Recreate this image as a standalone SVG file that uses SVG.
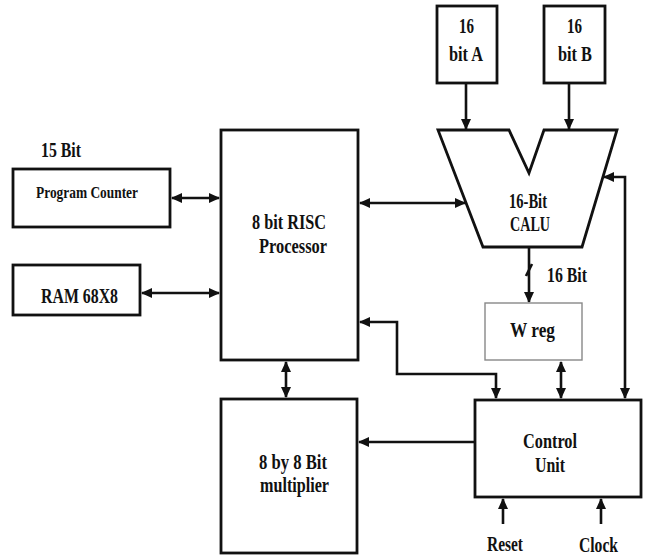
<svg xmlns="http://www.w3.org/2000/svg" width="645" height="558" viewBox="0 0 645 558">
<style>
.box{fill:#fff;stroke:#111;stroke-width:2.8}
.wbox{fill:#fff;stroke:#888;stroke-width:1.4}
.t{font-family:"Liberation Serif","Times New Roman",serif;font-weight:700;fill:#111;font-size:21px}
.s{font-size:16px}
.c{fill:none;stroke:#111;stroke-width:2.6}
</style>
<defs>
<marker id="ah" markerUnits="userSpaceOnUse" markerWidth="11" markerHeight="10" refX="10" refY="5" orient="auto-start-reverse">
<path d="M0,0 L11,5 L0,10 z" fill="#111"/>
</marker>
</defs>
<rect width="645" height="558" fill="#fff"/>

<g id="connectors">
<line class="c" x1="172" y1="198" x2="219" y2="198" marker-start="url(#ah)" marker-end="url(#ah)"/>
<line class="c" x1="142" y1="293" x2="219" y2="293" marker-start="url(#ah)" marker-end="url(#ah)"/>
<line class="c" x1="360" y1="203" x2="465" y2="203" marker-start="url(#ah)" marker-end="url(#ah)"/>
<line class="c" x1="466" y1="84" x2="466" y2="129" marker-end="url(#ah)"/>
<line class="c" x1="569" y1="84" x2="569" y2="129" marker-end="url(#ah)"/>
<line class="c" x1="529" y1="248" x2="529" y2="302" marker-end="url(#ah)"/>
<line class="c" x1="526" y1="276" x2="532" y2="264" stroke-width="1.8"/>
<line class="c" x1="561" y1="362" x2="561" y2="398" marker-start="url(#ah)" marker-end="url(#ah)"/>
<path class="c" d="M496,398 V374 H397 V322 H360" marker-start="url(#ah)" marker-end="url(#ah)"/>
<path class="c" d="M604,177 H625 V398" marker-start="url(#ah)" marker-end="url(#ah)"/>
<line class="c" x1="286" y1="362" x2="286" y2="397" marker-start="url(#ah)" marker-end="url(#ah)"/>
<line class="c" x1="474" y1="442" x2="359" y2="442" marker-end="url(#ah)"/>
<line class="c" x1="503" y1="524" x2="503" y2="499" marker-end="url(#ah)"/>
<line class="c" x1="601" y1="524" x2="601" y2="499" marker-end="url(#ah)"/>
</g>

<g id="label-15bit">
<text class="t" x="41" y="157" textLength="40" lengthAdjust="spacingAndGlyphs">15 Bit</text>
</g>

<g id="program-counter">
<rect class="box" x="13" y="169" width="157" height="58"/>
<text class="t s" x="36" y="198" textLength="102" lengthAdjust="spacingAndGlyphs">Program Counter</text>
</g>

<g id="ram">
<rect class="box" x="13" y="265" width="127" height="50"/>
<text class="t" x="41" y="303" textLength="77" lengthAdjust="spacingAndGlyphs">RAM 68X8</text>
</g>

<g id="processor">
<rect class="box" x="221" y="130" width="137" height="230"/>
<text class="t" x="252" y="229" textLength="74" lengthAdjust="spacingAndGlyphs">8 bit RISC</text>
<text class="t" x="259" y="253" textLength="68" lengthAdjust="spacingAndGlyphs">Processor</text>
</g>

<g id="multiplier">
<rect class="box" x="221" y="399" width="136" height="154"/>
<text class="t" x="259" y="469" textLength="68" lengthAdjust="spacingAndGlyphs">8 by 8 Bit</text>
<text class="t" x="260" y="492" textLength="69" lengthAdjust="spacingAndGlyphs">multiplier</text>
</g>

<g id="bit-a">
<rect class="box" x="437" y="6" width="60" height="77"/>
<text class="t" x="459" y="33" textLength="15" lengthAdjust="spacingAndGlyphs">16</text>
<text class="t" x="449" y="61" textLength="34" lengthAdjust="spacingAndGlyphs">bit A</text>
</g>

<g id="bit-b">
<rect class="box" x="544" y="6" width="61" height="77"/>
<text class="t" x="567" y="33" textLength="15" lengthAdjust="spacingAndGlyphs">16</text>
<text class="t" x="558" y="61" textLength="34" lengthAdjust="spacingAndGlyphs">bit B</text>
</g>

<g id="calu">
<path class="box" d="M438,130 H509 L529,173 L544,130 H617 L582,247 H483 Z"/>
<text class="t" x="509" y="208" textLength="38" lengthAdjust="spacingAndGlyphs">16-Bit</text>
<text class="t" x="510" y="231" textLength="40" lengthAdjust="spacingAndGlyphs">CALU</text>
</g>

<g id="label-16bit">
<text class="t" x="547" y="282" textLength="40" lengthAdjust="spacingAndGlyphs">16 Bit</text>
</g>

<g id="wreg">
<rect class="wbox" x="485" y="303" width="97" height="57"/>
<text class="t" x="510" y="337" textLength="45" lengthAdjust="spacingAndGlyphs">W reg</text>
</g>

<g id="control-unit">
<rect class="box" x="475" y="400" width="166" height="97"/>
<text class="t" x="523" y="448" textLength="54" lengthAdjust="spacingAndGlyphs">Control</text>
<text class="t" x="535" y="472" textLength="30" lengthAdjust="spacingAndGlyphs">Unit</text>
</g>

<g id="reset">
<text class="t" x="487" y="551" textLength="36" lengthAdjust="spacingAndGlyphs">Reset</text>
</g>

<g id="clock">
<text class="t" x="579" y="552" textLength="39" lengthAdjust="spacingAndGlyphs">Clock</text>
</g>
</svg>
